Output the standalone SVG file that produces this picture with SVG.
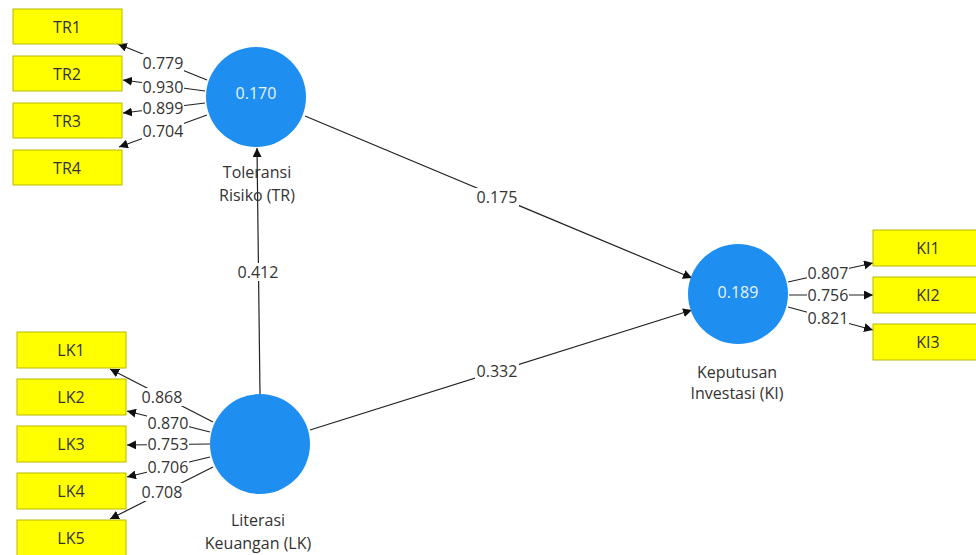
<svg xmlns="http://www.w3.org/2000/svg" width="976" height="555" viewBox="0 0 976 555">
<defs>
<style>
.bg{fill:#ffffff}
.ind rect{fill:#ffff00;stroke:#b8b800;stroke-width:1}
.ind text{font-family:"Open Sans","Noto Sans",sans-serif;font-size:16px;fill:#333333;text-anchor:middle;dominant-baseline:central}
.lat circle{fill:#1e8ef0}
.val{font-family:"Open Sans","Noto Sans",sans-serif;font-size:16px;fill:#e8f4ff;text-anchor:middle;dominant-baseline:central}
.name{font-family:"Open Sans","Noto Sans",sans-serif;font-size:16px;fill:#333333;text-anchor:middle;dominant-baseline:central}
.conn line{stroke:#222222;stroke-width:1.2;marker-end:url(#arr)}
.conn rect{fill:#ffffff}
.lbl{font-family:"Open Sans","Noto Sans",sans-serif;font-size:16px;fill:#333333;text-anchor:middle;dominant-baseline:central}
</style>
<marker id="arr" viewBox="0 0 10 10" refX="10" refY="5" markerWidth="9" markerHeight="9" markerUnits="userSpaceOnUse" orient="auto">
<path d="M0,0 L10,5 L0,10 z" fill="#111111"/>
</marker>
</defs>
<rect class="bg" x="0" y="0" width="976" height="555"/>

<g id="connectors" class="conn">
<line x1="207" y1="80" x2="118" y2="44"/>
<line x1="205" y1="91" x2="123" y2="80"/>
<line x1="205" y1="103" x2="123" y2="113"/>
<line x1="207" y1="115" x2="119" y2="147"/>
<line x1="213" y1="422" x2="110" y2="369"/>
<line x1="210" y1="432" x2="127" y2="411"/>
<line x1="210" y1="444" x2="127" y2="445"/>
<line x1="210" y1="457" x2="127" y2="477"/>
<line x1="213" y1="467" x2="110" y2="519"/>
<line x1="788" y1="282" x2="873" y2="263"/>
<line x1="789" y1="295" x2="873" y2="295"/>
<line x1="788" y1="307" x2="873" y2="330"/>
<line x1="305" y1="116" x2="692" y2="278"/>
<line x1="310" y1="430" x2="692" y2="310"/>
<line x1="260" y1="394" x2="257" y2="148"/>
<rect x="142" y="54" width="42" height="18"/>
<rect x="142" y="78" width="42" height="18"/>
<rect x="142" y="99" width="42" height="18"/>
<rect x="142" y="122" width="42" height="18"/>
<rect x="141" y="388" width="42" height="18"/>
<rect x="147" y="414" width="42" height="18"/>
<rect x="147" y="435" width="42" height="18"/>
<rect x="147" y="458" width="42" height="18"/>
<rect x="141" y="483" width="42" height="18"/>
<rect x="807" y="264" width="42" height="18"/>
<rect x="807" y="286" width="42" height="18"/>
<rect x="807" y="309" width="42" height="18"/>
<rect x="475" y="188" width="44" height="18"/>
<rect x="475" y="362" width="44" height="18"/>
<rect x="236" y="263" width="44" height="18"/>
<text class="lbl" x="163" y="63">0.779</text>
<text class="lbl" x="163" y="87">0.930</text>
<text class="lbl" x="163" y="108">0.899</text>
<text class="lbl" x="163" y="131">0.704</text>
<text class="lbl" x="162" y="397">0.868</text>
<text class="lbl" x="168" y="423">0.870</text>
<text class="lbl" x="168" y="444">0.753</text>
<text class="lbl" x="168" y="467">0.706</text>
<text class="lbl" x="162" y="492">0.708</text>
<text class="lbl" x="828" y="273">0.807</text>
<text class="lbl" x="828" y="295">0.756</text>
<text class="lbl" x="828" y="318">0.821</text>
<text class="lbl" x="497" y="197">0.175</text>
<text class="lbl" x="497" y="371">0.332</text>
<text class="lbl" x="258" y="272">0.412</text>
</g>

<g id="TR1" class="ind"><rect x="13" y="9" width="109" height="35"/><text x="67" y="27">TR1</text></g>
<g id="TR2" class="ind"><rect x="13" y="56" width="109" height="35"/><text x="67" y="74">TR2</text></g>
<g id="TR3" class="ind"><rect x="13" y="103" width="109" height="35"/><text x="67" y="121">TR3</text></g>
<g id="TR4" class="ind"><rect x="13" y="150" width="109" height="35"/><text x="67" y="168">TR4</text></g>

<g id="LK1" class="ind"><rect x="17" y="332" width="109" height="36"/><text x="71" y="350">LK1</text></g>
<g id="LK2" class="ind"><rect x="17" y="379" width="109" height="36"/><text x="71" y="397">LK2</text></g>
<g id="LK3" class="ind"><rect x="17" y="426" width="109" height="36"/><text x="71" y="444">LK3</text></g>
<g id="LK4" class="ind"><rect x="17" y="473" width="109" height="36"/><text x="71" y="491">LK4</text></g>
<g id="LK5" class="ind"><rect x="17" y="520" width="109" height="36"/><text x="71" y="538">LK5</text></g>

<g id="KI1" class="ind"><rect x="873" y="230" width="110" height="36"/><text x="928" y="248">KI1</text></g>
<g id="KI2" class="ind"><rect x="873" y="277" width="110" height="36"/><text x="928" y="295">KI2</text></g>
<g id="KI3" class="ind"><rect x="873" y="324" width="110" height="36"/><text x="928" y="342">KI3</text></g>

<g id="TR" class="lat">
<circle cx="256" cy="97" r="50"/>
<text class="val" x="256" y="93">0.170</text>
<text class="name" x="257" y="172">Toleransi</text>
<text class="name" x="257" y="195">Risiko (TR)</text>
</g>
<g id="LK" class="lat">
<circle cx="260" cy="444" r="50"/>
<text class="name" x="258" y="520">Literasi</text>
<text class="name" x="258" y="543">Keuangan (LK)</text>
</g>
<g id="KI" class="lat">
<circle cx="738" cy="294" r="50"/>
<text class="val" x="738" y="292">0.189</text>
<text class="name" x="737" y="372">Keputusan</text>
<text class="name" x="737" y="393">Investasi (KI)</text>
</g>
</svg>
